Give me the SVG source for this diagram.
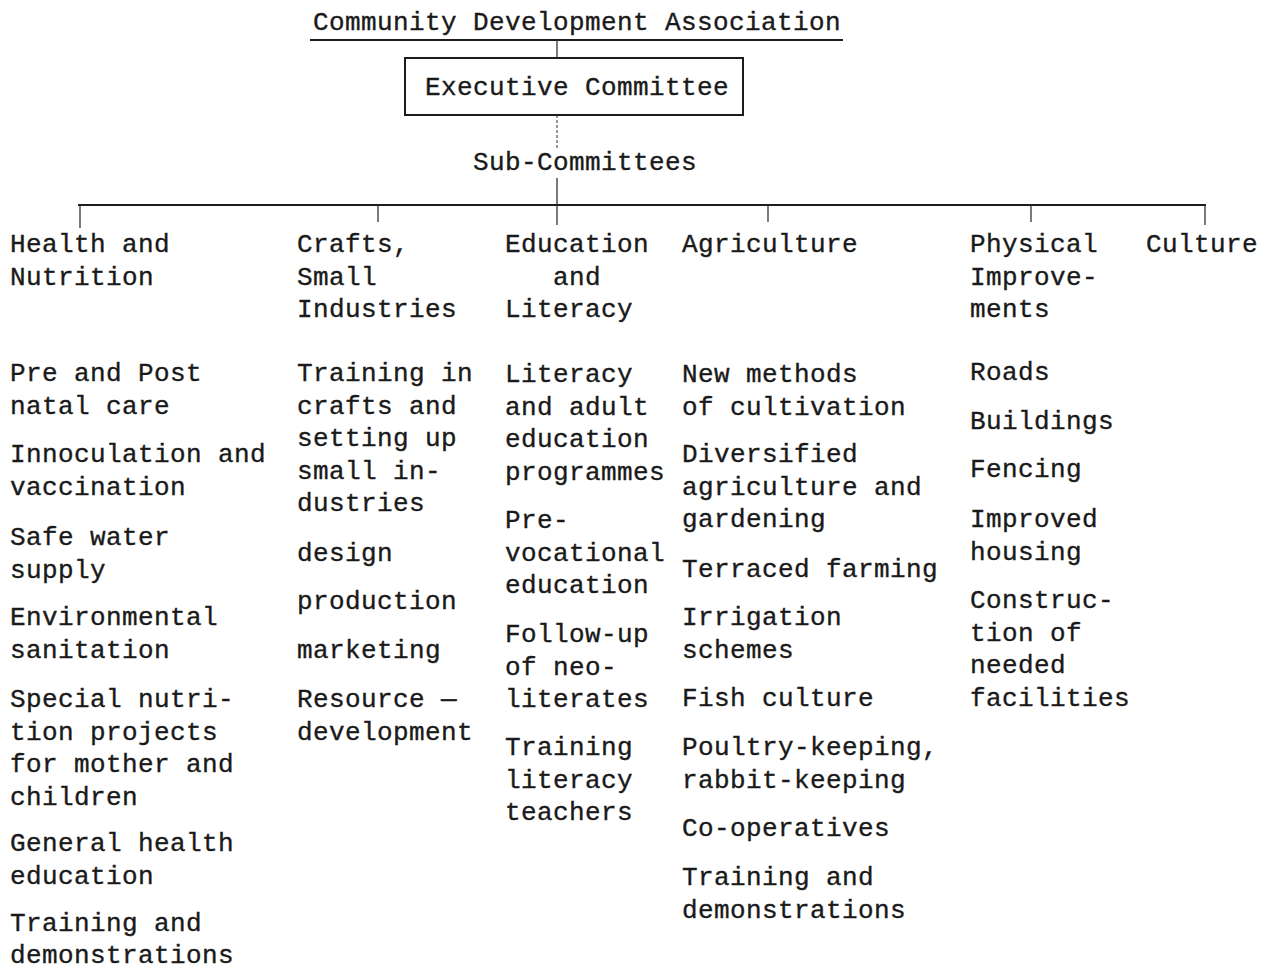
<svg xmlns="http://www.w3.org/2000/svg" width="1275" height="968" viewBox="0 0 1275 968">
  <style>
    .t { font-family: "Liberation Mono", "DejaVu Sans Mono", monospace; font-size: 26px; letter-spacing: 0.4px; fill: #1a1a1a; stroke: #1a1a1a; stroke-width: 0.35px; }
    .ln { stroke: #1c1c1c; stroke-width: 2; fill: none; }
    .thin { stroke: #333; stroke-width: 1.3; fill: none; }
    .dash { stroke: #555; stroke-width: 1.2; stroke-dasharray: 3 2; fill: none; }
  </style>
  <rect width="1275" height="968" fill="#ffffff"/>

  <!-- connectors -->
  <g id="connectors">
    <line class="ln" x1="310" y1="40" x2="843" y2="40"/>
    <line class="thin" x1="557" y1="40" x2="557" y2="58"/>
    <line class="dash" x1="557" y1="115" x2="557" y2="150"/>
    <line class="thin" x1="557" y1="178" x2="557" y2="205"/>
    <line class="ln" x1="78" y1="205" x2="1206" y2="205"/>
    <line class="thin" x1="80" y1="205" x2="80" y2="228"/>
    <line class="thin" x1="378" y1="205" x2="378" y2="222"/>
    <line class="thin" x1="557" y1="205" x2="557" y2="225"/>
    <line class="thin" x1="768" y1="205" x2="768" y2="222"/>
    <line class="thin" x1="1031" y1="205" x2="1031" y2="222"/>
    <line class="thin" x1="1205" y1="205" x2="1205" y2="225"/>
  </g>

  <!-- top of the hierarchy -->
  <g id="association">
    <text class="t" x="313" y="30">Community Development Association</text>
  </g>
  <g id="executive">
    <rect class="ln" x="405" y="58" width="338" height="57"/>
    <text class="t" x="425" y="95">Executive Committee</text>
  </g>
  <g id="subcommittees">
    <text class="t" x="473" y="170">Sub-Committees</text>
  </g>

  <!-- Health and Nutrition -->
  <g id="health">
    <text class="t" x="10" y="252"><tspan x="10">Health and</tspan><tspan x="10" dy="32.5">Nutrition</tspan></text>
    <text class="t" y="381"><tspan x="10">Pre and Post</tspan><tspan x="10" dy="32.5">natal care</tspan></text>
    <text class="t" y="462"><tspan x="10">Innoculation and</tspan><tspan x="10" dy="32.5">vaccination</tspan></text>
    <text class="t" y="545"><tspan x="10">Safe water</tspan><tspan x="10" dy="32.5">supply</tspan></text>
    <text class="t" y="625"><tspan x="10">Environmental</tspan><tspan x="10" dy="32.5">sanitation</tspan></text>
    <text class="t" y="707"><tspan x="10">Special nutri-</tspan><tspan x="10" dy="32.5">tion projects</tspan><tspan x="10" dy="32.5">for mother and</tspan><tspan x="10" dy="32.5">children</tspan></text>
    <text class="t" y="851"><tspan x="10">General health</tspan><tspan x="10" dy="32.5">education</tspan></text>
    <text class="t" y="931"><tspan x="10">Training and</tspan><tspan x="10" dy="31.5">demonstrations</tspan></text>
  </g>

  <!-- Crafts, Small Industries -->
  <g id="crafts">
    <text class="t" y="252"><tspan x="297">Crafts,</tspan><tspan x="297" dy="32.5">Small</tspan><tspan x="297" dy="32.5">Industries</tspan></text>
    <text class="t" y="381"><tspan x="297">Training in</tspan><tspan x="297" dy="32.5">crafts and</tspan><tspan x="297" dy="32.5">setting up</tspan><tspan x="297" dy="32.5">small in-</tspan><tspan x="297" dy="32.5">dustries</tspan></text>
    <text class="t" x="297" y="561">design</text>
    <text class="t" x="297" y="609">production</text>
    <text class="t" x="297" y="658">marketing</text>
    <text class="t" y="707"><tspan x="297">Resource —</tspan><tspan x="297" dy="32.5">development</tspan></text>
  </g>

  <!-- Education and Literacy -->
  <g id="education">
    <text class="t" y="252"><tspan x="505">Education</tspan><tspan x="553" dy="32.5">and</tspan><tspan x="505" dy="32.5">Literacy</tspan></text>
    <text class="t" y="382"><tspan x="505">Literacy</tspan><tspan x="505" dy="32.5">and adult</tspan><tspan x="505" dy="32.5">education</tspan><tspan x="505" dy="32.5">programmes</tspan></text>
    <text class="t" y="528"><tspan x="505">Pre-</tspan><tspan x="505" dy="32.5">vocational</tspan><tspan x="505" dy="32.5">education</tspan></text>
    <text class="t" y="642"><tspan x="505">Follow-up</tspan><tspan x="505" dy="32.5">of neo-</tspan><tspan x="505" dy="32.5">literates</tspan></text>
    <text class="t" y="755"><tspan x="505">Training</tspan><tspan x="505" dy="32.5">literacy</tspan><tspan x="505" dy="32.5">teachers</tspan></text>
  </g>

  <!-- Agriculture -->
  <g id="agriculture">
    <text class="t" x="682" y="252">Agriculture</text>
    <text class="t" y="382"><tspan x="682">New methods</tspan><tspan x="682" dy="32.5">of cultivation</tspan></text>
    <text class="t" y="462"><tspan x="682">Diversified</tspan><tspan x="682" dy="32.5">agriculture and</tspan><tspan x="682" dy="32.5">gardening</tspan></text>
    <text class="t" x="682" y="577">Terraced farming</text>
    <text class="t" y="625"><tspan x="682">Irrigation</tspan><tspan x="682" dy="32.5">schemes</tspan></text>
    <text class="t" x="682" y="706">Fish culture</text>
    <text class="t" y="755"><tspan x="682">Poultry-keeping,</tspan><tspan x="682" dy="32.5">rabbit-keeping</tspan></text>
    <text class="t" x="682" y="836">Co-operatives</text>
    <text class="t" y="885"><tspan x="682">Training and</tspan><tspan x="682" dy="32.5">demonstrations</tspan></text>
  </g>

  <!-- Physical Improvements -->
  <g id="physical">
    <text class="t" y="252"><tspan x="970">Physical</tspan><tspan x="970" dy="32.5">Improve-</tspan><tspan x="970" dy="32.5">ments</tspan></text>
    <text class="t" x="970" y="380">Roads</text>
    <text class="t" x="970" y="429">Buildings</text>
    <text class="t" x="970" y="477">Fencing</text>
    <text class="t" y="527"><tspan x="970">Improved</tspan><tspan x="970" dy="32.5">housing</tspan></text>
    <text class="t" y="608"><tspan x="970">Construc-</tspan><tspan x="970" dy="32.5">tion of</tspan><tspan x="970" dy="32.5">needed</tspan><tspan x="970" dy="32.5">facilities</tspan></text>
  </g>

  <!-- Culture -->
  <g id="culture">
    <text class="t" x="1146" y="252">Culture</text>
  </g>
</svg>
